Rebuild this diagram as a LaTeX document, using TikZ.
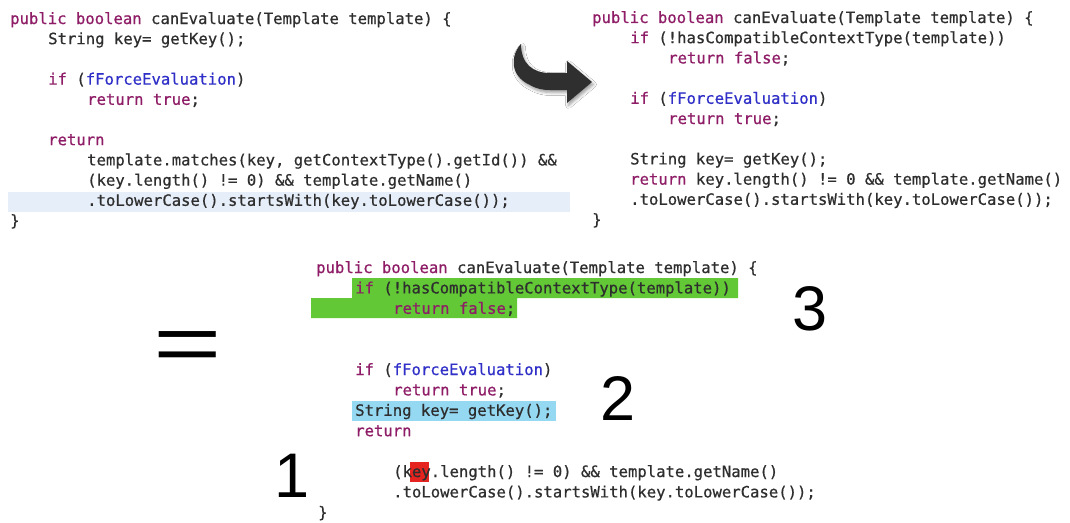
\documentclass[tikz,border=0pt]{standalone}
\usepackage{fontspec}
\newfontfamily\codefont{DejaVu Sans Mono}[FakeBold=0.6]
\newfontfamily\numfont{Liberation Sans}
\usepackage{tikz}
\usetikzlibrary{shadows.blur}

\definecolor{kwcol}{HTML}{8E1C66}
\definecolor{fldcol}{HTML}{3030C8}
\definecolor{txtcol}{HTML}{2E2E2E}
\definecolor{curline}{HTML}{E6EEF9}
\definecolor{hlgreen}{HTML}{62C836}
\definecolor{hlcyan}{HTML}{94D8F2}
\definecolor{hlred}{HTML}{E52420}
\definecolor{arrowcol}{HTML}{2F2F2F}

\newcommand\kw[1]{\textcolor{kwcol}{#1}}
\newcommand\fld[1]{\textcolor{fldcol}{#1}}

\tikzset{
  codeline/.style={anchor=base west, inner sep=0pt, text=txtcol, font=\fontsize{15.6}{18}\codefont},
  bignum/.style={anchor=base, inner sep=0pt, text=black, font=\fontsize{63}{70}\numfont},
}

\begin{document}
\begin{tikzpicture}[x=1pt,y=-1pt]
\useasboundingbox[fill=white] (0,0) rectangle (1070,522);
\fill[curline] (8,191.5) rectangle (570,211.5);
\fill[hlgreen] (352,278) rectangle (738,298) (311,298) rectangle (517,318);
\fill[hlcyan] (352,400.5) rectangle (556,420.5);
\fill[hlred] (410,462) rectangle (429,482);

\node[codeline] (l0) at (10,24) {\kw{public} \kw{boolean} canEvaluate(Template template) \{};
\node[codeline] (l1) at (48,44.2) {String key= getKey();};
\node[codeline] (l3) at (48,84.6) {\kw{if} (\fld{fForceEvaluation})};
\node[codeline] (l4) at (87,104.8) {\kw{return} \kw{true};};
\node[codeline] (l6) at (48,145.2) {\kw{return}};
\node[codeline] (l7) at (87,165.4) {template.matches(key, getContextType().getId()) \&\&};
\node[codeline] (l8) at (87,185.6) {(key.length() != 0) \&\& template.getName()};
\node[codeline] (l9) at (87,205.8) {.toLowerCase().startsWith(key.toLowerCase());};
\node[codeline] (l10) at (10,226) {\}};

\node[codeline] (r0) at (592,23) {\kw{public} \kw{boolean} canEvaluate(Template template) \{};
\node[codeline] (r1) at (630,43.2) {\kw{if} (!hasCompatibleContextType(template))};
\node[codeline] (r2) at (668,63.4) {\kw{return} \kw{false};};
\node[codeline] (r4) at (630,103.8) {\kw{if} (\fld{fForceEvaluation})};
\node[codeline] (r5) at (668,124) {\kw{return} \kw{true};};
\node[codeline] (r7) at (630,164.4) {String key= getKey();};
\node[codeline] (r8) at (630,184.6) {\kw{return} key.length() != 0 \&\& template.getName()};
\node[codeline] (r9) at (630,204.8) {.toLowerCase().startsWith(key.toLowerCase());};
\node[codeline] (r10) at (592,225) {\}};

\node[codeline] (b0) at (316,273) {\kw{public} \kw{boolean} canEvaluate(Template template) \{};
\node[codeline] (b1) at (355,293.4) {\kw{if} (!hasCompatibleContextType(template))};
\node[codeline] (b2) at (393,313.8) {\kw{return} \kw{false};};
\node[codeline] (b5) at (355,375) {\kw{if} (\fld{fForceEvaluation})};
\node[codeline] (b6) at (393,395.4) {\kw{return} \kw{true};};
\node[codeline] (b7) at (355,415.8) {String key= getKey();};
\node[codeline] (b8) at (355,436.2) {\kw{return}};
\node[codeline] (b10) at (393,477) {(key.length() != 0) \&\& template.getName()};
\node[codeline] (b11) at (393,497.4) {.toLowerCase().startsWith(key.toLowerCase());};
\node[codeline] (b12) at (318,517.8) {\}};

\fill[arrowcol, blur shadow={shadow xshift=1.5pt, shadow yshift=-2.5pt, shadow blur radius=3pt, shadow opacity=40}]
  (521,44) .. controls (510,56) and (510,76) .. (530,85) .. controls (537,89) and (543,90) .. (550,90)
  -- (567,90) -- (567,103) -- (592,82) -- (567,61) -- (567,73) -- (550,73)
  .. controls (533,73) and (521,64) .. (521,44) -- cycle;

\node[bignum, font=\fontsize{81.5}{90}\numfont, xscale=1.44] (eq) at (188,371.3) {=};
\node[bignum] (three) at (810,330) {3};
\node[bignum] (two) at (618,420) {2};
\node[bignum] (one) at (292,497) {1};
\end{tikzpicture}
\end{document}
